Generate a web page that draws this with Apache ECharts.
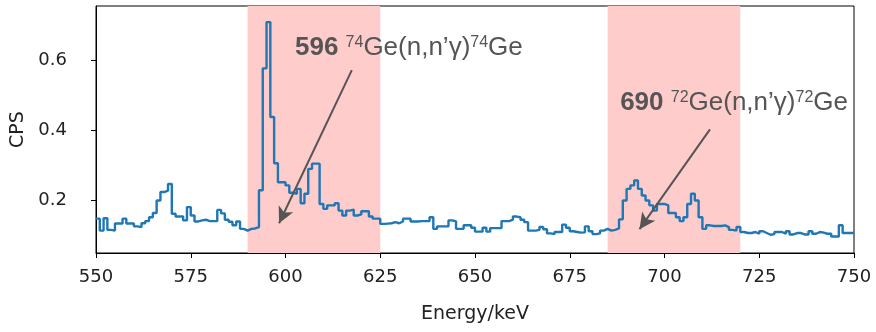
<!DOCTYPE html>
<html>
<head>
<meta charset="utf-8">
<script src="https://cdn.jsdelivr.net/npm/echarts@6/dist/echarts.min.js"></script>
<style>
  html, body { margin: 0; padding: 0; background: #fff; }
  #chart { width: 876px; height: 332px; }
</style>
</head>
<body>
<div id="chart"></div>
<script>
// spectrum: 1 keV bins from 550 keV, counts per second
var binStart = 550;
var binWidth = 1;
var cps = [
  // 550 - 574
  0.148, 0.114, 0.149, 0.116, 0.114, 0.134, 0.134, 0.148, 0.134, 0.134,
  0.126, 0.124, 0.135, 0.141, 0.152, 0.164, 0.200, 0.224, 0.228, 0.247,
  0.162, 0.154, 0.154, 0.143, 0.181,
  // 575 - 599
  0.157, 0.140, 0.143, 0.145, 0.141, 0.141, 0.141, 0.173, 0.163, 0.145,
  0.139, 0.129, 0.140, 0.119, 0.114, 0.119, 0.120, 0.124, 0.229, 0.577,
  0.709, 0.438, 0.306, 0.252, 0.252,
  // 600 - 624
  0.243, 0.222, 0.219, 0.233, 0.192, 0.219, 0.290, 0.305, 0.305, 0.190,
  0.176, 0.186, 0.186, 0.192, 0.171, 0.157, 0.171, 0.174, 0.157, 0.160,
  0.169, 0.169, 0.154, 0.148, 0.148,
  // 625 - 649
  0.133, 0.134, 0.135, 0.138, 0.135, 0.140, 0.148, 0.148, 0.140, 0.140,
  0.141, 0.141, 0.141, 0.152, 0.119, 0.126, 0.126, 0.126, 0.143, 0.140,
  0.119, 0.119, 0.129, 0.129, 0.122,
  // 650 - 674
  0.111, 0.111, 0.122, 0.111, 0.121, 0.121, 0.121, 0.141, 0.141, 0.145,
  0.154, 0.152, 0.145, 0.138, 0.114, 0.114, 0.116, 0.124, 0.118, 0.106,
  0.104, 0.110, 0.110, 0.131, 0.122,
  // 675 - 699
  0.112, 0.110, 0.108, 0.109, 0.126, 0.112, 0.104, 0.106, 0.114, 0.119,
  0.114, 0.116, 0.120, 0.146, 0.200, 0.233, 0.243, 0.257, 0.233, 0.214,
  0.200, 0.186, 0.171, 0.190, 0.190,
  // 700 - 724
  0.186, 0.164, 0.164, 0.152, 0.141, 0.152, 0.190, 0.219, 0.200, 0.152,
  0.119, 0.129, 0.127, 0.127, 0.127, 0.129, 0.124, 0.116, 0.114, 0.124,
  0.110, 0.107, 0.107, 0.110, 0.105,
  // 725 - 749
  0.112, 0.107, 0.102, 0.104, 0.110, 0.110, 0.105, 0.112, 0.103, 0.107,
  0.107, 0.103, 0.103, 0.112, 0.105, 0.110, 0.108, 0.105, 0.105, 0.097,
  0.097, 0.129, 0.107, 0.107, 0.107
];

// shaded regions of interest (keV)
var regions = [[590, 625], [685, 720]];

var xTicks = [550, 575, 600, 625, 650, 675, 700, 725, 750];
var yTicks = [0.2, 0.4, 0.6];

// annotations: text anchor and arrow from -> to, in (keV, CPS)
var notes = [
  { energy: '596', mass: '74', text: [602.5, 0.636], from: [617.5, 0.572], to: [598.3, 0.135] },
  { energy: '690', mass: '72', text: [688.3, 0.480], from: [712.0, 0.403], to: [693.4, 0.118] }
];

var stepData = cps.map(function (v, i) { return [binStart + i * binWidth, v]; });
stepData.push([binStart + cps.length * binWidth, cps[cps.length - 1]]);

var chart = echarts.init(document.getElementById('chart'));

chart.setOption({
  animation: false,
  textStyle: { fontFamily: 'DejaVu Sans' },
  grid: {
    left: 96, right: 22, top: 6, bottom: 79,
    show: true, borderColor: '#000', borderWidth: 1
  },
  xAxis: {
    type: 'value',
    min: 550, max: 750, interval: 25,
    name: 'Energy/keV',
    nameLocation: 'middle',
    nameGap: 52,
    nameTextStyle: { fontSize: 19, color: '#222' },
    axisLine: { lineStyle: { color: '#000', width: 1 } },
    axisTick: { inside: false, length: 5, lineStyle: { color: '#000' }, customValues: xTicks },
    axisLabel: { fontSize: 18, color: '#222', margin: 15, customValues: xTicks },
    splitLine: { show: false }
  },
  yAxis: {
    type: 'value',
    min: 0.05, max: 0.755,
    name: 'CPS',
    nameLocation: 'middle',
    nameRotate: 90,
    nameGap: 62,
    nameTextStyle: { fontSize: 19, color: '#222' },
    axisLine: { show: true, lineStyle: { color: '#000', width: 1 } },
    axisTick: { show: true, inside: false, length: 5, lineStyle: { color: '#000' }, customValues: yTicks },
    axisLabel: { fontSize: 18, color: '#222', margin: 29, customValues: yTicks,
      formatter: function (v) { return v.toFixed(1); } },
    splitLine: { show: false }
  },
  series: [
    {
      type: 'line',
      data: [],
      z: 1,
      markArea: {
        silent: true,
        itemStyle: { color: '#ffcccc' },
        data: regions.map(function (r) { return [{ xAxis: r[0] }, { xAxis: r[1] }]; })
      }
    },
    {
      type: 'line',
      step: 'end',
      data: stepData,
      symbol: 'none',
      z: 3,
      lineStyle: { color: '#1f77b4', width: 2.4 }
    },
    {
      type: 'line',
      data: [],
      z: 4,
      markLine: {
        silent: true,
        symbol: ['none', 'arrow'],
        symbolSize: [12, 16],
        label: { show: false },
        lineStyle: { color: '#555', width: 2, type: 'solid' },
        data: notes.map(function (n) { return [{ coord: n.from }, { coord: n.to }]; })
      },
      markPoint: {
        silent: true,
        symbolSize: 0,
        data: notes.map(function (n) {
          return {
            coord: n.text,
            label: {
              show: true,
              position: 'right',
              distance: 0,
              fontFamily: 'Liberation Sans',
              formatter: '{b|' + n.energy + ' }{s|' + n.mass + '}{t|Ge(n,n\u2019\u03b3)}{s|' + n.mass + '}{t|Ge}',
              rich: {
                b: { fontSize: 26, fontWeight: 'bold', color: '#555', fontFamily: 'Liberation Sans' },
                t: { fontSize: 26, color: '#555', fontFamily: 'Liberation Sans' },
                s: { fontSize: 16, color: '#555', fontFamily: 'Liberation Sans', verticalAlign: 'top' }
              }
            }
          };
        })
      }
    }
  ]
});
</script>
</body>
</html>
